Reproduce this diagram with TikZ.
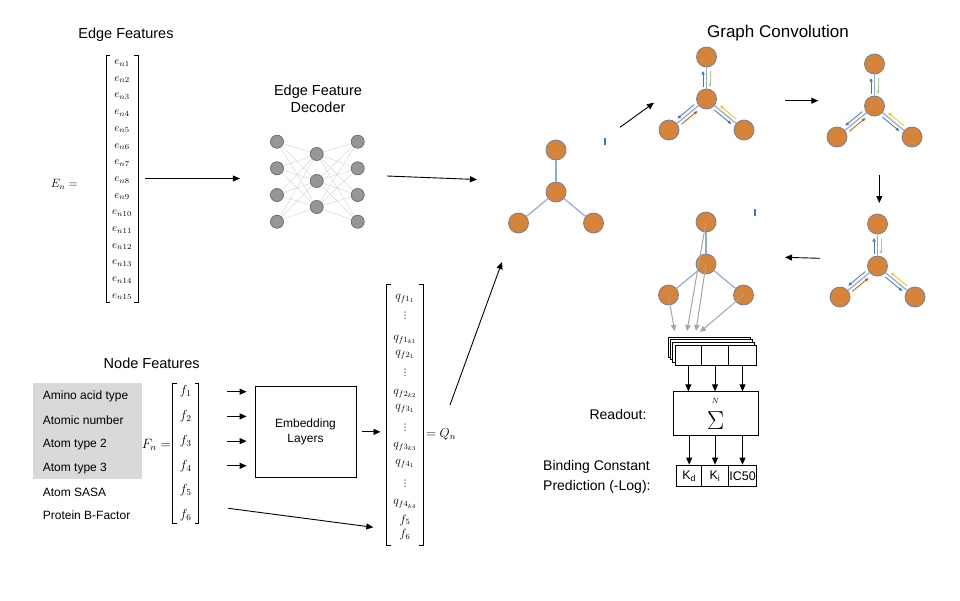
\RequirePackage{fix-cm}
\documentclass[tikz,border=0pt]{standalone}
\usepackage{fontspec}
\setmainfont{Liberation Sans}
\newfontfamily\dvsans{DejaVu Sans}
\usetikzlibrary{arrows.meta,calc,fit}
\definecolor{gorange}{RGB}{213,132,57}
\definecolor{gborder}{RGB}{125,125,145}
\definecolor{edgeblue}{RGB}{143,170,220}
\definecolor{msgblue}{RGB}{68,114,196}
\definecolor{msggreen}{RGB}{169,209,142}
\definecolor{msgbrown}{RGB}{197,90,17}
\definecolor{msgyellow}{RGB}{255,192,0}
\definecolor{dgray}{RGB}{150,150,150}
\definecolor{dborder}{RGB}{110,110,110}
\definecolor{dlinkc}{RGB}{218,218,218}
\definecolor{arrgray}{RGB}{166,166,166}
\definecolor{lgray}{RGB}{217,217,217}
\tikzset{
 title/.style={font=\fontsize{14.5}{17}\selectfont, align=center, inner sep=0},
 lbl/.style={font=\fontsize{12}{14}\selectfont, inner sep=0},
 ment/.style={font=\fontsize{11}{12}\selectfont, inner sep=0},
 fment/.style={font=\fontsize{13}{15}\selectfont, inner sep=0},
 qment/.style={font=\fontsize{12}{13}\selectfont, inner sep=0},
 vdot/.style={font=\dvsans\fontsize{9}{10}\selectfont, inner sep=0},
 brk/.style={line width=0.6pt},
 gnode/.style={circle, minimum size=20pt, inner sep=0, fill=gorange, draw=gborder, line width=0.8pt},
 dnode/.style={circle, minimum size=13pt, inner sep=0, fill=dgray, draw=dborder, line width=0.8pt},
 dlink/.style={draw=dlinkc, line width=0.5pt},
 gedge/.style={draw=edgeblue, line width=1.2pt},
 arr/.style={-{Triangle[length=7pt,width=6pt]}, line width=0.9pt},
 msg/.style={-{Triangle[length=3.5pt,width=3pt]}, line width=0.8pt},
 garr/.style={-{Triangle[length=6pt,width=5.5pt]}, line width=1pt, draw=arrgray, color=arrgray},
 box/.style={draw, line width=0.8pt, fill=white, inner sep=0},
 cellbox/.style={draw, line width=0.8pt, fill=white, inner sep=0, minimum height=20pt, font=\fontsize{12.5}{14}\selectfont},
 tick/.style={draw=msgblue, line width=1.5pt},
}
\newcommand{\mbrack}[1]{%
 \draw[brk] ([xshift=4pt]#1.north west) -- (#1.north west) -- (#1.south west) -- ([xshift=4pt]#1.south west);
 \draw[brk] ([xshift=-4pt]#1.north east) -- (#1.north east) -- (#1.south east) -- ([xshift=-4pt]#1.south east);}
\newcommand{\gcgraph}[3]{%
 \node[gnode] (#1c) at ({#2},{#3}) {};
 \node[gnode] (#1t) at ({#2},{#3-42}) {};
 \node[gnode] (#1l) at ({#2-37.5},{#3+31}) {};
 \node[gnode] (#1r) at ({#2+37.5},{#3+31}) {};
 \draw[gedge] (#1c) -- (#1t);
 \draw[gedge] (#1c) -- (#1l);
 \draw[gedge] (#1c) -- (#1r);}
\newcommand{\gcmsg}[1]{%
 \draw[msg, msgblue] ($(#1c)!12pt!(#1t)!3.5pt!90:(#1t)$) -- ($(#1c)!28pt!(#1t)!3.5pt!90:(#1t)$);
 \draw[msg, msggreen] ($(#1t)!14pt!(#1c)!3.5pt!90:(#1c)$) -- ($(#1t)!30pt!(#1c)!3.5pt!90:(#1c)$);
 \draw[msg, msgblue] ($(#1c)!13pt!(#1l)!3.5pt!-90:(#1l)$) -- ($(#1c)!35pt!(#1l)!3.5pt!-90:(#1l)$);
 \draw[msg, msgbrown] ($(#1l)!13pt!(#1c)!3.5pt!-90:(#1c)$) -- ($(#1l)!34pt!(#1c)!3.5pt!-90:(#1c)$);
 \draw[msg, msgblue] ($(#1c)!13pt!(#1r)!3.5pt!-90:(#1r)$) -- ($(#1c)!35pt!(#1r)!3.5pt!-90:(#1r)$);
 \draw[msg, msgyellow] ($(#1r)!13pt!(#1c)!3.5pt!-90:(#1c)$) -- ($(#1r)!34pt!(#1c)!3.5pt!-90:(#1c)$);}
\begin{document}
\begin{tikzpicture}[x=1pt,y=-1pt]
\fill[white] (0,0) rectangle (960,600);
\useasboundingbox (0,0) rectangle (960,600);

% ---------- Edge features ----------
\node[title] (eft) at (126,35) {Edge Features};
\node[minimum width=32pt, minimum height=247pt, inner sep=0] (Emat) at (122,178.5) {};
\mbrack{Emat}
\foreach \i in {1,...,15} \node[ment] (e\i) at (122,{63+(\i-1)*16.7}) {$e_{n\i}$};
\node[ment, anchor=east, font=\fontsize{12}{14}\selectfont] (En) at (78,184) {$E_n =$};

% ---------- Decoder ----------
\node[title] (dect) at (318,98.5) {Edge Feature\\Decoder};
\foreach \i/\y in {1/141.7,2/168.3,3/195,4/221.7} {
  \node[dnode] (dl\i) at (277,\y) {};
  \node[dnode] (dr\i) at (357.7,\y) {};
}
\foreach \j/\y in {1/154,2/181,3/207} \node[dnode] (dm\j) at (316.7,\y) {};
\foreach \i in {1,...,4} \foreach \j in {1,...,3} {
  \draw[dlink] (dl\i) -- (dm\j);
  \draw[dlink] (dm\j) -- (dr\i);
}
\node[fit=(dl1)(dr4), inner sep=0] (dec) {};
\draw[arr, shorten <=7pt, shorten >=30pt] (Emat.east) -- (Emat.east -| dec.west);
\coordinate (decout) at (387,176);
\coordinate (g1in) at (477,179.5);
\draw[arr] (decout) -- (g1in);

% ---------- Graphs ----------
\node[font=\fontsize{17}{20}\selectfont, inner sep=0] (gct) at (778,33) {Graph Convolution};
\gcgraph{ga}{556}{192}
\gcgraph{gb}{706.5}{99}
\gcgraph{gc}{874.5}{106}
\gcgraph{gd}{877.5}{266}
\gcgraph{ge}{706}{264}
\gcmsg{gb}
\gcmsg{gc}
\gcmsg{gd}
\draw[tick] (605,138) -- (605,145);
\draw[tick] (755,209) -- (755,216);

\coordinate (a1s) at (620,127.3); \coordinate (a1e) at (654,102.7);
\coordinate (a2s) at (785,100.7); \coordinate (a2e) at (818.3,100.7);
\coordinate (a3s) at (879.3,175); \coordinate (a3e) at (879.3,203);
\coordinate (a4s) at (820,258.3); \coordinate (a4e) at (785,257.3);
\draw[arr] (a1s) -- (a1e);
\draw[arr] (a2s) -- (a2e);
\draw[arr] (a3s) -- (a3e);
\draw[arr] (a4s) -- (a4e);

% ---------- Readout ----------
\node[box, minimum width=81.7pt, minimum height=20pt] (stk3) at (709.15,347.2) {};
\node[box, minimum width=81.7pt, minimum height=20pt] (stk2) at (711.35,349.8) {};
\node[box, minimum width=81.7pt, minimum height=20pt] (stk1) at (713.55,352.4) {};
\node[cellbox, minimum width=26.7pt] (s1) at (688.35,355) {};
\node[cellbox, minimum width=26.6pt] (s2) at (715,355) {};
\node[cellbox, minimum width=28.4pt] (s3) at (742.5,355) {};

\coordinate (r1) at (687,331);
\coordinate (r2) at (696,331);
\coordinate (r3) at (674.5,331);
\coordinate (r4) at (700,332);
\draw[garr] (get.center) -- (r1);
\draw[garr] (gec.center) -- (r2);
\draw[garr] (gel.center) -- (r3);
\draw[garr] (ger.center) -- (r4);

\node[box, minimum width=85pt, minimum height=43.3pt] (sumbox) at (715.8,413.4) {};
\node[font=\fontsize{26}{28}\selectfont, inner sep=0] (sig) at (715.5,421) {$\Sigma$};
\node[font=\fontsize{7.5}{8}\selectfont, inner sep=0] (supN) at (715.5,401) {$N$};
\node[font=\fontsize{14}{17}\selectfont, inner sep=0] (rdl) at (618,414) {Readout:};

\node[cellbox, minimum width=25pt, minimum height=21.7pt] (kd) at (689.2,475.85) {K\textsubscript{d}};
\node[cellbox, minimum width=26.6pt, minimum height=21.7pt] (ki) at (715,475.85) {K\textsubscript{i}};
\node[cellbox, minimum width=28.4pt, minimum height=21.7pt] (ic) at (742.5,475.85) {IC50};
\node[font=\fontsize{14}{20}\selectfont, align=left, anchor=west, inner sep=0] (bcp) at (543,477) {Binding Constant\\Prediction (-Log):};

\draw[arr] (s1) -- (s1 |- sumbox.north);
\draw[arr] (s2) -- (s2 |- sumbox.north);
\draw[arr] (s3) -- (s3 |- sumbox.north);
\draw[arr] (kd |- sumbox.south) -- (kd);
\draw[arr] (ki |- sumbox.south) -- (ki);
\draw[arr] (ic |- sumbox.south) -- (ic);

% ---------- Node features ----------
\node[title] (nft) at (151.7,363) {Node Features};
\node[fill=lgray, minimum width=109pt, minimum height=95.4pt, inner sep=0] (nfbox) at (87.2,431) {};
\node[lbl, anchor=west] (n1) at (42.7,396) {Amino acid type};
\node[lbl, anchor=west] (n2) at (42.7,420.7) {Atomic number};
\node[lbl, anchor=west] (n3) at (42.7,445) {Atom type 2};
\node[lbl, anchor=west] (n4) at (42.7,468.3) {Atom type 3};
\node[lbl, anchor=west] (n5) at (42.7,492.3) {Atom SASA};
\node[lbl, anchor=west] (n6) at (42.7,515.7) {Protein B-Factor};

\node[minimum width=25.6pt, minimum height=140pt, inner sep=0] (Fmat) at (185.5,453.3) {};
\mbrack{Fmat}
\foreach \i in {1,...,6} \node[fment] (f\i) at (185.7,{391.7+(\i-1)*24.7}) {$f_{\i}$};
\node[fment, anchor=east, font=\fontsize{13.5}{16}\selectfont] (Fn) at (171,445) {$F_n =$};

\node[box, minimum width=101pt, minimum height=91.7pt, align=center, font=\fontsize{12}{15}\selectfont] (emb) at (305.5,431.85) {Embedding\\Layers};
\coordinate (fstart) at (227.3,0);
\foreach \i in {1,...,4} \draw[arr, shorten >=8pt] (f\i -| fstart) -- (f\i -| emb.west);

% ---------- Q matrix ----------
\node[minimum width=36pt, minimum height=261pt, inner sep=0] (Qmat) at (404.7,414.5) {};
\mbrack{Qmat}
\node[qment] (q1) at (405,298.3) {$q_{f1_1}$};
\node[vdot] (q2) at (405,316) {⋮};
\node[qment] (q3) at (405,339.3) {$q_{f1_{k1}}$};
\node[qment] (q4) at (405,355) {$q_{f2_1}$};
\node[vdot] (q5) at (405,372.5) {⋮};
\node[qment] (q6) at (405,393.3) {$q_{f2_{k2}}$};
\node[qment] (q7) at (405,408.3) {$q_{f3_1}$};
\node[vdot] (q8) at (405,427.5) {⋮};
\node[qment] (q9) at (405,446.7) {$q_{f3_{k3}}$};
\node[qment] (q10) at (405,463.3) {$q_{f4_1}$};
\node[vdot] (q11) at (405,484) {⋮};
\node[qment] (q12) at (405,504) {$q_{f4_{k4}}$};
\node[qment] (q13) at (405,520) {$f_5$};
\node[qment] (q14) at (405,534.5) {$f_6$};
\node[fment, anchor=west] (Qn) at (426,434) {$= Q_n$};

\draw[arr, shorten <=6pt, shorten >=6pt] (emb.east) -- (emb.east -| Qmat.west);
\coordinate (f6a) at (228.3,508.3);
\coordinate (q5in) at (373.3,527.3);
\draw[arr] (f6a) -- (q5in);
\coordinate (qup) at (450,405);
\coordinate (g1low) at (502,262);
\draw[arr] (qup) -- (g1low);
\end{tikzpicture}
\end{document}
